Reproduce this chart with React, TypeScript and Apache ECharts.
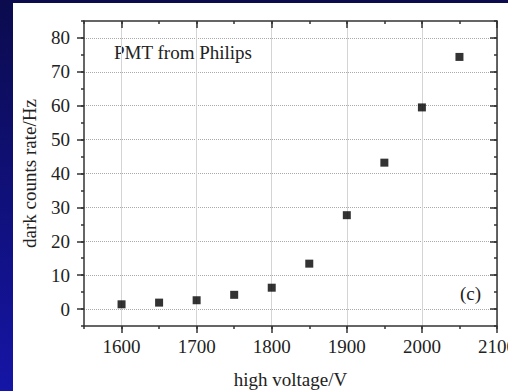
import React, { useEffect, useRef } from "react";
import * as echarts from "echarts";

const voltages = [1600, 1650, 1700, 1750, 1800, 1850, 1900, 1950, 2000, 2050];
const darkRates = [1.4, 1.9, 2.6, 4.2, 6.3, 13.4, 27.7, 43.2, 59.5, 74.4];
const xMajorTicks = [1600, 1700, 1800, 1900, 2000, 2100];
const yMajorTicks = [0, 10, 20, 30, 40, 50, 60, 70, 80];
const xRange = [1550, 2100];
const yRange = [-5, 85];
const xMinorStep = 50;
const yMinorStep = 5;

const FONT = '"Liberation Serif", "Times New Roman", serif';
const AXIS_COLOR = "#333";
const TEXT_COLOR = "#222";
const FS = 19;

export default function App() {
  const ref = useRef<HTMLDivElement>(null);
  useEffect(() => {
    if (!ref.current) return;
    const chart = echarts.init(ref.current, null, { renderer: "svg" });
    const lineStyle = { color: AXIS_COLOR, width: 1.5 };
    const base = (isX: boolean) => ({
      type: "value" as const,
      min: isX ? xRange[0] : yRange[0],
      max: isX ? xRange[1] : yRange[1],
    });
    const minorAxis = (isX: boolean, position: string, inside: boolean, labels: boolean) => ({
      ...base(isX),
      position,
      interval: isX ? xMinorStep : yMinorStep,
      axisLine: { show: true, onZero: false, lineStyle },
      axisTick: { show: true, inside, length: 3, lineStyle },
      axisLabel: labels
        ? {
            show: true,
            fontFamily: FONT,
            fontSize: FS,
            color: TEXT_COLOR,
            margin: isX ? 11 : 14,
            formatter: (v: number) =>
              (isX ? xMajorTicks : yMajorTicks).includes(v) ? String(v) : "",
          }
        : { show: false },
      splitLine: { show: false },
    });
    const majorAxis = (isX: boolean, position: string, inside: boolean, grid: boolean) => ({
      ...base(isX),
      position,
      axisLine: { show: false, onZero: false },
      axisTick: {
        show: true,
        inside,
        length: 7,
        lineStyle,
        customValues: isX ? xMajorTicks : yMajorTicks,
      },
      axisLabel: { show: false, customValues: isX ? xMajorTicks : yMajorTicks },
      splitLine: grid
        ? {
            show: true,
            lineStyle: isX
              ? { color: "#d4d4d4", width: 1, type: "solid" }
              : { color: "#aaaaaa", width: 1, type: "dotted" },
          }
        : { show: false },
    });

    const xMain: any = minorAxis(true, "bottom", false, true);
    xMain.name = "high voltage/V";
    xMain.nameLocation = "middle";
    xMain.nameGap = 44;
    xMain.nameTextStyle = { fontFamily: FONT, fontSize: FS, color: TEXT_COLOR };
    const yMain: any = minorAxis(false, "left", false, true);
    yMain.name = "dark counts rate/Hz";
    yMain.nameLocation = "middle";
    yMain.nameGap = 45;
    yMain.nameTextStyle = { fontFamily: FONT, fontSize: FS, color: TEXT_COLOR };

    chart.setOption({
      animation: false,
      backgroundColor: "#ffffff",
      grid: {
        left: 84,
        right: 11,
        top: 21,
        bottom: 65,
        containLabel: false,
        outerBoundsMode: "none",
      },
      graphic: [
        {
          type: "rect",
          z: -10,
          silent: true,
          left: 0,
          top: 0,
          shape: { width: 13, height: 391 },
          style: {
            fill: new echarts.graphic.LinearGradient(0, 0, 0, 1, [
              { offset: 0, color: "#0b0b4e" },
              { offset: 1, color: "#1515a6" },
            ]),
          },
        },
        {
          type: "rect",
          z: -10,
          silent: true,
          left: 0,
          top: 0,
          shape: { width: 508, height: 3 },
          style: { fill: "#0b0b4e" },
        },
        {
          type: "text",
          x: 114,
          y: 43,
          style: { text: "PMT from Philips", font: `${FS}px ${FONT}`, fill: TEXT_COLOR },
        },
        {
          type: "text",
          x: 460,
          y: 284,
          style: { text: "(c)", font: `${FS}px ${FONT}`, fill: TEXT_COLOR },
        },
      ],
      xAxis: [
        xMain,
        majorAxis(true, "bottom", false, true),
        minorAxis(true, "top", true, false),
        majorAxis(true, "top", true, false),
      ],
      yAxis: [
        yMain,
        majorAxis(false, "left", false, true),
        minorAxis(false, "right", true, false),
        majorAxis(false, "right", true, false),
      ],
      series: [
        {
          type: "scatter",
          xAxisIndex: 0,
          yAxisIndex: 0,
          symbol: "rect",
          symbolSize: 8,
          itemStyle: { color: "#000" },
          data: voltages.map((v, i) => [v, darkRates[i]]),
          z: 10,
        },
      ],
    });
    return () => chart.dispose();
  }, []);
  return (
    <div
      ref={ref}
      style={{
        position: "fixed",
        left: 0,
        top: 0,
        width: 508,
        height: 391,
        background: "#ffffff",
      }}
    />
  );
}
